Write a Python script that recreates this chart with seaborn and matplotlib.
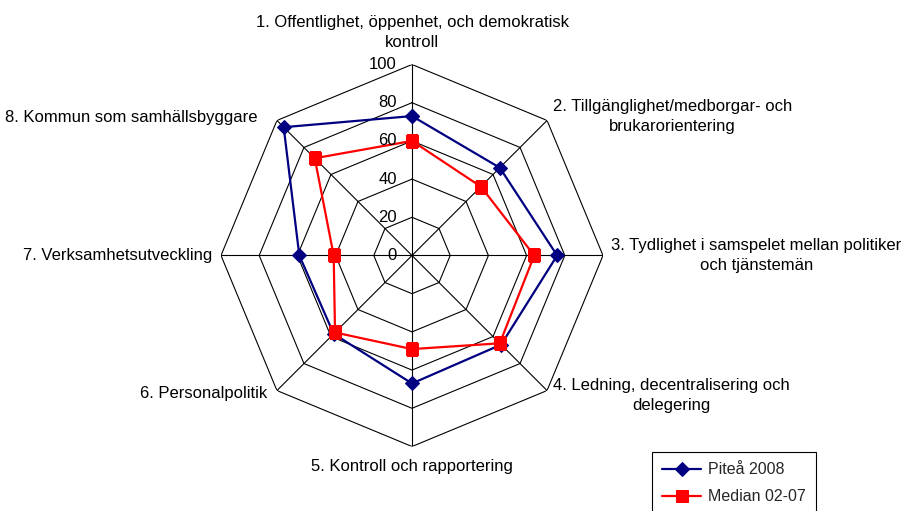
"""Radar chart: Piteå 2008 vs median 02-07."""

import matplotlib
matplotlib.use("Agg")
import matplotlib.pyplot as plt
import matplotlib.transforms as mtransforms
import numpy as np
import seaborn as sns


CATEGORIES = [
    "1. Offentlighet, öppenhet, och demokratisk\nkontroll",
    "2. Tillgänglighet/medborgar- och\nbrukarorientering",
    "3. Tydlighet i samspelet mellan politiker\noch tjänstemän",
    "4. Ledning, decentralisering och\ndelegering",
    "5. Kontroll och rapportering",
    "6. Personalpolitik",
    "7. Verksamhetsutveckling",
    "8. Kommun som samhällsbyggare",
]
PITEA_2008 = [73, 65, 76, 66, 67, 58, 59, 95]
MEDIAN_02_07 = [60, 51, 64, 65, 49, 57, 41, 72]
RING_TICKS = [0, 20, 40, 60, 80, 100]
SERIES_NAMES = ["Piteå 2008", "Median 02-07"]


def closed(values):
    return list(values) + [values[0]]


def main():
    sns.set_theme(style="white")
    plt.rcParams["font.family"] = ["Liberation Sans", "DejaVu Sans"]

    fig = plt.figure(figsize=(9.12, 5.11), dpi=100)
    cx, cy, rad = 412 / 912, 1 - 255.5 / 511, 191
    ax = fig.add_axes(
        [cx - rad / 912, cy - rad / 511, 2 * rad / 912, 2 * rad / 511],
        projection="polar",
    )
    ax.set_theta_offset(np.pi / 2)
    ax.set_theta_direction(-1)
    ax.set_ylim(0, 100)
    ax.grid(False)
    ax.spines["polar"].set_visible(False)
    ax.set_xticks([])
    ax.set_yticks([])
    ax.patch.set_alpha(0)

    n = len(CATEGORIES)
    angles = np.linspace(0, 2 * np.pi, n, endpoint=False)
    theta = closed(list(angles))

    # octagon grid and spokes
    for level in RING_TICKS[1:]:
        ax.plot(theta, [level] * (n + 1), color="black", lw=0.8, zorder=1)
    for ang in angles:
        ax.plot([ang, ang], [0, 100], color="black", lw=0.8, zorder=1)

    # value labels along the top spoke
    offset = mtransforms.offset_copy(ax.transData, fig=fig, x=-15, y=0, units="dots")
    for level in RING_TICKS:
        ax.text(0, level, str(level), transform=offset, ha="right", va="center",
                fontsize=12, color="black", zorder=5)

    sns.lineplot(x=theta, y=closed(PITEA_2008), ax=ax, sort=False, estimator=None,
                 color="#000080", lw=1.6, marker="D", markersize=7,
                 markeredgecolor="#000080", label=SERIES_NAMES[0], zorder=3)
    sns.lineplot(x=theta, y=closed(MEDIAN_02_07), ax=ax, sort=False, estimator=None,
                 color="#ff0000", lw=1.6, marker="s", markersize=9,
                 markeredgecolor="#ff0000", label=SERIES_NAMES[1], zorder=4)

    # category labels next to the outer vertices (pixel offsets, alignment)
    placements = [
        (0, 32, "center"),
        (6, 4, "left"),
        (8, 0, "left"),
        (6, -5, "left"),
        (0, -20, "center"),
        (-10, -3, "right"),
        (-9, 0, "right"),
        (-19, 3, "right"),
    ]
    for ang, label, (dx, dy, ha) in zip(angles, CATEGORIES, placements):
        tr = mtransforms.offset_copy(ax.transData, fig=fig, x=dx, y=dy, units="dots")
        ax.text(ang, 100, label, transform=tr, ha=ha, va="center",
                multialignment="center", linespacing=1.38,
                fontsize=12, color="black", clip_on=False)

    ax.legend(
        loc="upper left",
        bbox_to_anchor=(652 / 912, 1 - 452 / 511),
        bbox_transform=fig.transFigure,
        fontsize=11.5,
        frameon=True,
        fancybox=False,
        edgecolor="black",
        framealpha=1,
        handlelength=2.4,
        handletextpad=0.45,
        labelspacing=0.75,
        borderpad=0.65,
        borderaxespad=0,
    ).get_frame().set_linewidth(0.8)

    fig.savefig("out.png", dpi=100)
    plt.close(fig)


if __name__ == "__main__":
    main()
